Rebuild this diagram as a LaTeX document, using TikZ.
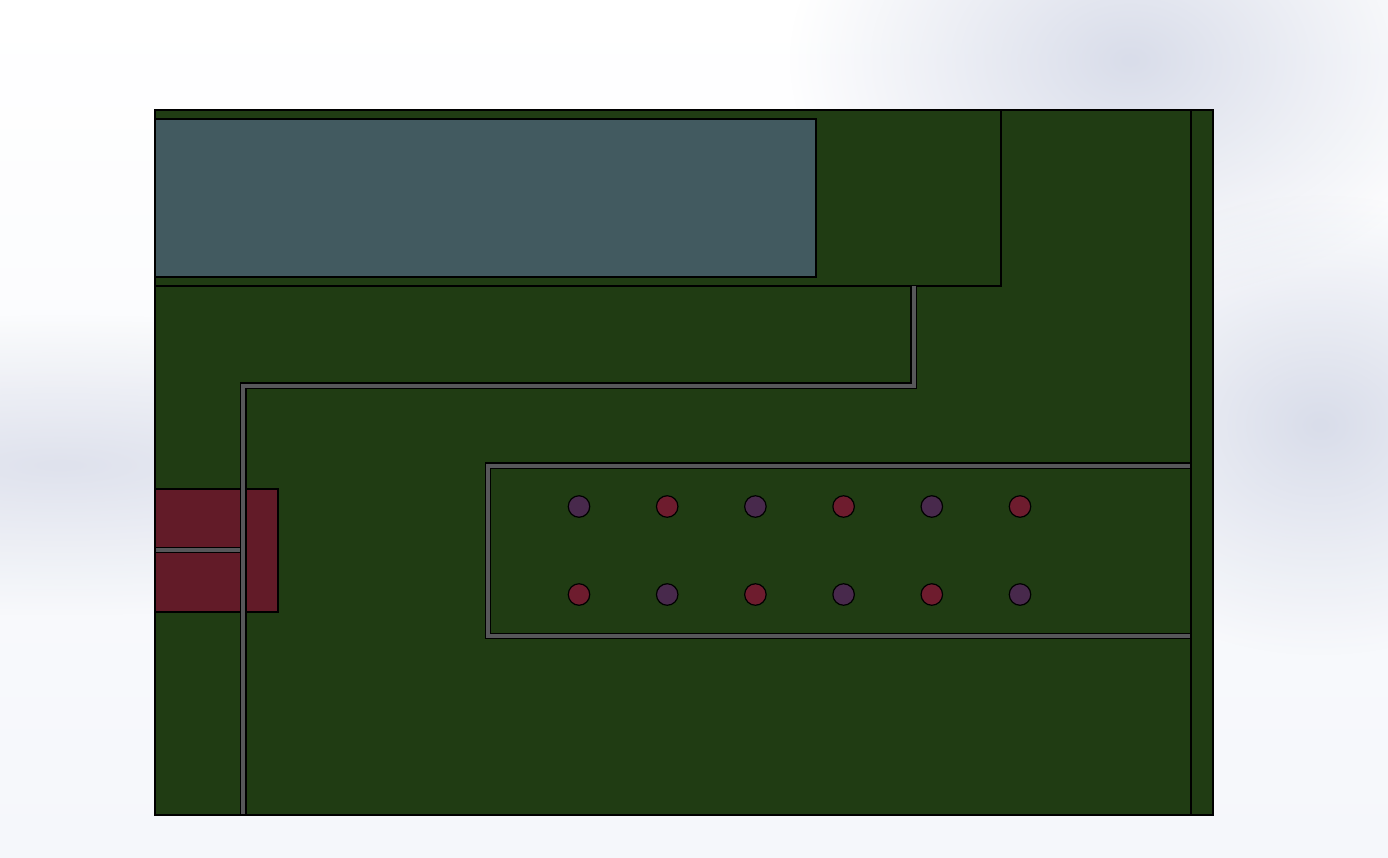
\documentclass[tikz,border=0pt]{standalone}
\usepackage{xcolor}
\usetikzlibrary{fadings}
\definecolor{plategreen}{HTML}{203C13}
\definecolor{slateteal}{HTML}{425A60}
\definecolor{padred}{HTML}{621B28}
\definecolor{viared}{HTML}{6E1C2E}
\definecolor{viapurple}{HTML}{48294C}
\definecolor{tracegray}{HTML}{57575A}
\definecolor{skyblue}{HTML}{D9DDEA}
\definecolor{palesky}{HTML}{F5F7FB}
\tikzfading[name=blobfade,inner color=transparent!0,outer color=transparent!100]
\tikzset{
    outline/.style={
        draw=black,
        line width=1.25pt
    },
    trace/.style={
        draw=black,
        line width=1.2pt,
        double=tracegray,
        double distance=4pt
    },
    via/.style={
        circle,
        draw=black,
        line width=1.2pt,
        minimum size=21.5pt,
        inner sep=0pt
    }
}

\begin{document}
\begin{tikzpicture}[x=1pt,y=-1pt]
    % backdrop
    \useasboundingbox (0,0) rectangle (1388,857);
    \shade[top color=white,bottom color=palesky] (0,0) rectangle (1388,857);
    \fill[skyblue!85!white,path fading=blobfade] (60,465) ellipse (640 and 150);
    \fill[skyblue,path fading=blobfade] (1130,60) ellipse (340 and 240);
    \fill[skyblue,path fading=blobfade] (1320,425) ellipse (280 and 230);

    % board and upper block
    \fill[plategreen] (155,110) rectangle (1213,815);
    \draw[outline] (155,110) rectangle (1001,286);
    \draw[outline,fill=slateteal] (155,119) rectangle (816,277);
    \draw[outline,fill=padred] (155,489) rectangle (278,612);

    % draw traces
    \draw[trace] (155,550) -- (241,550);
    \draw[trace] (913.5,286) -- (913.5,385.5) -- (243.3,385.5) -- (243.3,815);
    \draw[trace] (1191,465.5) -- (488.2,465.5) -- (488.2,636) -- (1191,636);

    % draw vias
    \foreach \k/\xk/\colA/\colB in {0/579/viapurple/viared, 1/667.2/viared/viapurple, 2/755.4/viapurple/viared, 3/843.6/viared/viapurple, 4/931.8/viapurple/viared, 5/1020/viared/viapurple}
    {
        \node[via,fill=\colA] (top\k) at (\xk,506.5) {};
        \node[via,fill=\colB] (bot\k) at (\xk,594.5) {};
    }

    % board outline on top
    \draw[outline] (155,110) rectangle (1213,815);
    \draw[outline] (1191,110) -- (1191,815);
\end{tikzpicture}
\end{document}
